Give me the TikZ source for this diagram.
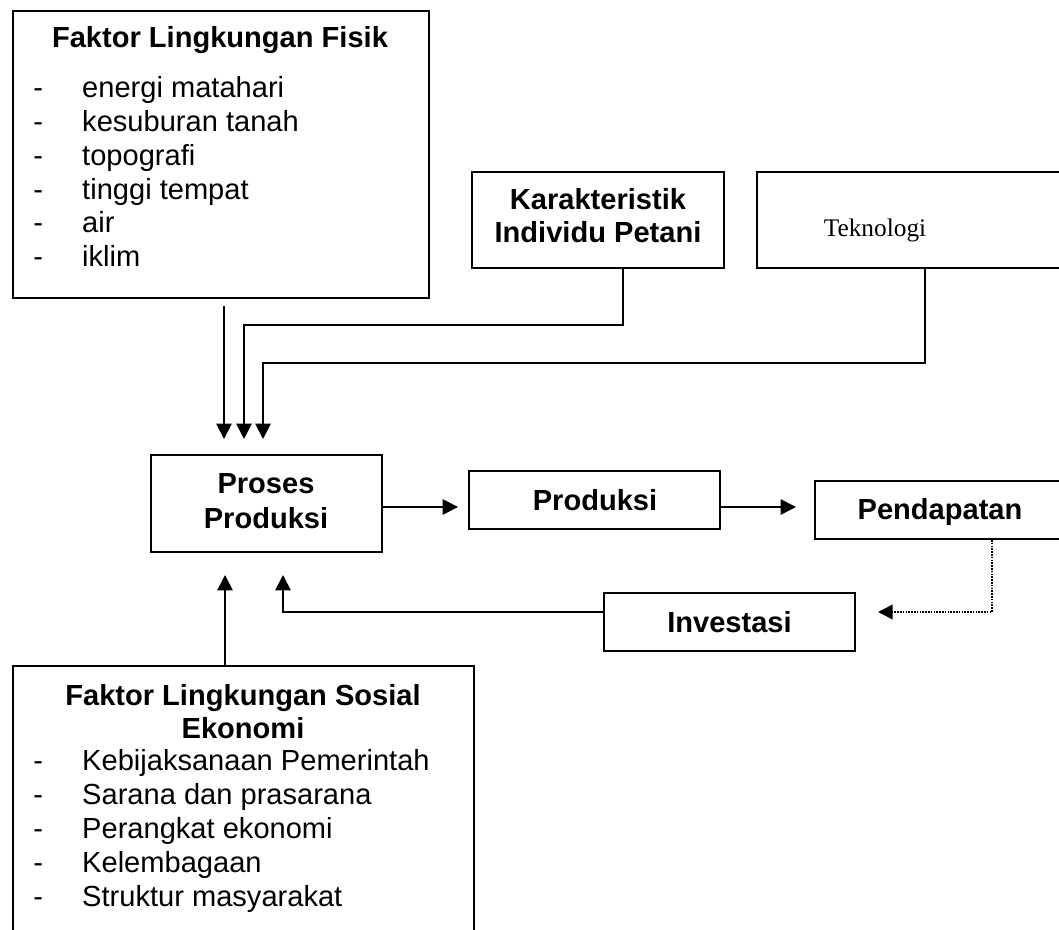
\documentclass[tikz,border=0pt]{standalone}
\usepackage{fontspec}
\setmainfont{Liberation Sans}
\newfontfamily\serifrm{Liberation Serif}
\usetikzlibrary{arrows.meta,fit}
\newcommand\dashitem[1]{\makebox[36.75pt][l]{-}#1}
\begin{document}
\begin{tikzpicture}[x=0.75pt,y=-0.75pt,
  box/.style={draw,line width=1.4pt,inner sep=0pt},
  txt/.style={anchor=base,inner sep=0pt,font=\fontsize{21.8pt}{26pt}\selectfont},
  btxt/.style={anchor=base,inner sep=0pt,font=\fontsize{21.8pt}{26pt}\selectfont\bfseries},
  litem/.style={txt,anchor=base west},
  conn/.style={line width=1.3pt},
  arr/.style={conn,-{Triangle[length=11.5pt,width=11.5pt]}},
  darr/.style={line width=1.3pt,dash pattern=on 1.2pt off 0.9pt,-{Triangle[length=11pt,width=11pt]}},
]
\path[use as bounding box, clip] (0,0) rectangle (1059,930);

% boxes
\node[box,fit={(13,11) (429,298)}] (fis) {};
\node[box,fit={(472,172) (724,268)}] (kar) {};
\node[box,fit={(757,172) (1090,268)}] (tek) {};
\node[box,fit={(151,455) (382,552)}] (pro) {};
\node[box,fit={(469,471) (720,529)}] (prd) {};
\node[box,fit={(815,481) (1090,539)}] (pen) {};
\node[box,fit={(604,593) (855,651)}] (inv) {};
\node[box,fit={(13,666) (474,990)}] (sos) {};

% texts
\node[btxt] (fisT) at (220,48) {Faktor Lingkungan Fisik};
\foreach \t [count=\i] in {energi matahari,kesuburan tanah,topografi,tinggi tempat,air,iklim}{
  \node[litem] (fis\i) at (33,{98+33.7*(\i-1)}) {\dashitem{\t}};
}
\node[btxt] (karT1) at (598,210) {Karakteristik};
\node[btxt] (karT2) at (598,243) {Individu Petani};
\node[anchor=base,inner sep=0pt,font=\serifrm\fontsize{19pt}{22pt}\selectfont] (tekT) at (875,237) {Teknologi};
\node[btxt] (proT1) at (266,493) {Proses};
\node[btxt] (proT2) at (266,528) {Produksi};
\node[btxt] (prdT) at (595,510) {Produksi};
\node[btxt] (penT) at (940,519) {Pendapatan};
\node[btxt] (invT) at (729.5,632) {Investasi};
\node[btxt] (sosT1) at (243,705) {Faktor Lingkungan Sosial};
\node[btxt] (sosT2) at (243,738) {Ekonomi};
\foreach \t [count=\i] in {Kebijaksanaan Pemerintah,Sarana dan prasarana,Perangkat ekonomi,Kelembagaan,Struktur masyarakat}{
  \node[litem] (sos\i) at (33,{770+34.2*(\i-1)}) {\dashitem{\t}};
}

% coordinates
\coordinate (a1s) at (224,306);
\coordinate (a1t) at (224,439);
\coordinate (kc) at (623,325);
\coordinate (kl) at (244,325);
\coordinate (a2t) at (244,439);
\coordinate (tc) at (925,363);
\coordinate (tl) at (263,363);
\coordinate (a3t) at (263,439);
\coordinate (ut) at (225,575);
\coordinate (ic) at (283,612);
\coordinate (it) at (283,575);
\coordinate (pc) at (992,612);
\coordinate (pt) at (878,612);
\coordinate (pp) at (458,507);
\coordinate (pq) at (796,507);

% connectors
\draw[arr] (a1s) -- (a1t);
\draw[arr] (kar.south -| kc) -- (kc) -- (kl) -- (a2t);
\draw[arr] (tek.south -| tc) -- (tc) -- (tl) -- (a3t);
\draw[arr] (pro.east |- pp) -- (pp);
\draw[arr] (prd.east |- pq) -- (pq);
\draw[darr] (pen.south -| pc) -- (pc) -- (pt);
\draw[arr] (inv.west |- ic) -- (ic) -- (it);
\draw[arr] (sos.north -| ut) -- (ut);
\end{tikzpicture}
\end{document}
